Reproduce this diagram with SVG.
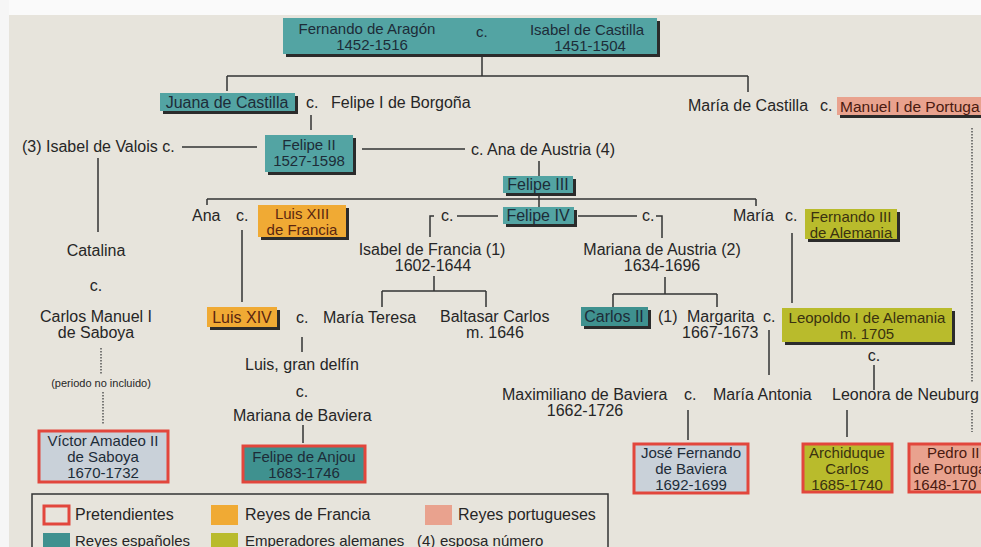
<svg xmlns="http://www.w3.org/2000/svg" width="981" height="547" viewBox="0 0 981 547">
<style>
text{font-family:"Liberation Sans",Arial,sans-serif;font-size:16px;fill:#262626}
.m{text-anchor:middle}
.s15{font-size:15px}
.sh{fill:#2b2b2b}
.teal{fill:#53a4a3}
.dteal{fill:#3f918f}
.org{fill:#f0aa34}
.olv{fill:#b9bb2c}
.sal{fill:#e9a28e}
.lb{fill:#c9d1d9}
.red{stroke:#e2463c;stroke-width:3}
.ln{stroke:#333;stroke-width:1.5;fill:none}
.dot{stroke:#555;stroke-width:1.5;stroke-dasharray:1.5 1.5;fill:none}
.tt{fill:#1d2c38}
.ot{fill:#5a2610}
.vt{fill:#3a3210}
.st{fill:#4a1a10}
</style>
<rect x="0" y="0" width="981" height="547" fill="#e7e4dc"/>
<rect x="0" y="0" width="981" height="15" fill="#fafafa"/>
<rect x="0" y="0" width="9" height="547" fill="#f6f6f6"/>

<g id="connectors">
<path class="ln" d="M482,42V76M227,76H748M227,76V91M748,76V92"/>
<path class="ln" d="M311,115V130"/>
<path class="ln" d="M182,147H257M362,149H465"/>
<path class="ln" d="M98,158V232"/>
<path class="dot" d="M101,348V375M103,392V425"/>
<path class="ln" d="M539,161V176M539,193V207M207,199H756M207,199V205M756,199V206"/>
<path class="ln" d="M457,216H498M434,216H430V237M578,216H637M656,216H662V238"/>
<path class="ln" d="M434,276V291M382,291H486M382,291V307M486,291V307"/>
<path class="ln" d="M665,277V294M613,294H717M613,294V307M717,294V307"/>
<path class="ln" d="M242,230V302M302,337V352M303,425V443"/>
<path class="ln" d="M792,233V303M874,365V390M769,330V375"/>
<path class="ln" d="M688,410V440M847,410V437"/>
<path class="dot" d="M972,128V383M972,410V432"/>
</g>

<g id="n-fernando-isabel">
<rect class="sh" x="286" y="21" width="374" height="36"/>
<rect class="teal" x="283" y="18" width="374" height="36"/>
<text class="m tt s15" x="367" y="34">Fernando de Aragón</text>
<text class="m tt s15" x="372" y="50">1452-1516</text>
<text class="tt s15" x="476" y="37">c.</text>
<text class="m tt s15" x="587" y="35">Isabel de Castilla</text>
<text class="m tt s15" x="590" y="51">1451-1504</text>
</g>

<g id="n-juana">
<rect class="sh" x="163" y="96" width="135" height="18"/>
<rect class="teal" x="160" y="93" width="135" height="18"/>
<text class="m tt" x="227" y="108">Juana de Castilla</text>
<text x="306" y="108">c.</text>
<text x="331" y="108">Felipe I de Borgoña</text>
</g>

<g id="n-maria-castilla">
<text x="688" y="111">María de Castilla</text>
<text x="820" y="111">c.</text>
<rect class="sh" x="840" y="100" width="150" height="18"/>
<rect class="sal" x="837" y="97" width="150" height="18"/>
<text class="st" x="840" y="112" style="font-size:15.5px">Manuel I de Portuga</text>
</g>

<g id="n-felipe2">
<rect class="sh" x="268" y="138" width="88" height="37"/>
<rect class="teal" x="265" y="135" width="88" height="37"/>
<text class="m tt s15" x="309" y="150">Felipe II</text>
<text class="m tt s15" x="309" y="166">1527-1598</text>
</g>

<g id="n-isabel-valois">
<text x="22" y="152">(3) Isabel de Valois c.</text>
</g>

<g id="n-ana-austria">
<text x="471" y="155">c. Ana de Austria (4)</text>
</g>

<g id="n-catalina">
<text class="m" x="96" y="256">Catalina</text>
<text class="m" x="96" y="291">c.</text>
<text class="m" x="96" y="322">Carlos Manuel I</text>
<text class="m" x="96" y="338">de Saboya</text>
<text class="m" x="101" y="387" style="font-size:11px">(periodo no incluido)</text>
</g>

<g id="n-victor">
<rect class="lb red" x="39" y="431" width="129" height="51"/>
<text class="m tt s15" x="103" y="446">Víctor Amadeo II</text>
<text class="m tt s15" x="103" y="462">de Saboya</text>
<text class="m tt s15" x="103" y="478">1670-1732</text>
</g>

<g id="n-felipe3">
<rect class="sh" x="506" y="179" width="70" height="17"/>
<rect class="teal" x="503" y="176" width="70" height="17"/>
<text class="m tt" x="538" y="190">Felipe III</text>
</g>

<g id="n-felipe4">
<rect class="sh" x="506" y="210" width="71" height="17"/>
<rect class="teal" x="503" y="207" width="71" height="17"/>
<text class="m tt" x="538" y="221">Felipe IV</text>
<text x="441" y="221">c.</text>
<text x="642" y="221">c.</text>
</g>

<g id="n-ana-luis13">
<text x="192" y="221">Ana</text>
<text x="236" y="221">c.</text>
<rect class="sh" x="261" y="208" width="88" height="32"/>
<rect class="org" x="258" y="205" width="88" height="32"/>
<text class="m ot s15" x="302" y="219">Luis XIII</text>
<text class="m ot s15" x="302" y="235">de Francia</text>
</g>

<g id="n-isabel-francia">
<text class="m" x="432" y="255">Isabel de Francia (1)</text>
<text class="m" x="433" y="271">1602-1644</text>
</g>

<g id="n-mariana-austria">
<text class="m" x="662" y="255">Mariana de Austria (2)</text>
<text class="m" x="662" y="271">1634-1696</text>
</g>

<g id="n-maria-fernando3">
<text x="733" y="221">María</text>
<text x="785" y="221">c.</text>
<rect class="sh" x="808" y="212" width="92" height="30"/>
<rect class="olv" x="805" y="209" width="92" height="30"/>
<text class="m vt s15" x="851" y="222">Fernando III</text>
<text class="m vt s15" x="851" y="238">de Alemania</text>
</g>

<g id="n-luis14">
<rect class="sh" x="210" y="310" width="70" height="20"/>
<rect class="org" x="207" y="307" width="70" height="20"/>
<text class="m ot" x="242" y="323">Luis XIV</text>
<text x="296" y="323">c.</text>
<text x="323" y="323">María Teresa</text>
</g>

<g id="n-baltasar">
<text x="440" y="322">Baltasar Carlos</text>
<text class="m" x="495" y="338">m. 1646</text>
</g>

<g id="n-carlos2">
<rect class="sh" x="584" y="310" width="67" height="19"/>
<rect class="dteal" x="581" y="307" width="67" height="19"/>
<text class="m tt" x="614" y="322">Carlos II</text>
</g>

<g id="n-margarita">
<text x="658" y="322">(1)</text>
<text x="687" y="322">Margarita</text>
<text x="682" y="338">1667-1673</text>
<text x="763" y="322">c.</text>
</g>

<g id="n-leopoldo">
<rect class="sh" x="785" y="311" width="170" height="34"/>
<rect class="olv" x="782" y="308" width="170" height="34"/>
<text class="m vt s15" x="867" y="323">Leopoldo I de Alemania</text>
<text class="m vt s15" x="867" y="339">m. 1705</text>
<text class="m" x="874" y="361">c.</text>
</g>

<g id="n-luis-delfin">
<text x="245" y="370">Luis, gran delfín</text>
<text class="m" x="302" y="397">c.</text>
<text x="233" y="421">Mariana de Baviera</text>
</g>

<g id="n-felipe-anjou">
<rect class="dteal red" x="243" y="446" width="122" height="36"/>
<text class="m tt s15" x="304" y="462">Felipe de Anjou</text>
<text class="m tt s15" x="304" y="478">1683-1746</text>
</g>

<g id="n-maximiliano">
<text x="502" y="400">Maximiliano de Baviera</text>
<text class="m" x="585" y="416">1662-1726</text>
<text x="684" y="400">c.</text>
<text x="713" y="400">María Antonia</text>
</g>

<g id="n-leonora">
<text x="832" y="400">Leonora de Neuburg</text>
</g>

<g id="n-jose-fernando">
<rect class="lb red" x="634" y="444" width="114" height="49"/>
<text class="m tt s15" x="691" y="458">José Fernando</text>
<text class="m tt s15" x="691" y="474">de Baviera</text>
<text class="m tt s15" x="691" y="490">1692-1699</text>
</g>

<g id="n-archiduque">
<rect class="olv red" x="803" y="444" width="89" height="48"/>
<text class="m vt s15" x="847" y="458">Archiduque</text>
<text class="m vt s15" x="847" y="474">Carlos</text>
<text class="m vt s15" x="847" y="490">1685-1740</text>
</g>

<g id="n-pedro2">
<rect class="sal red" x="909" y="444" width="90" height="48"/>
<text class="st s15" x="927" y="458">Pedro II</text>
<text class="st s15" x="913" y="474">de Portuga</text>
<text class="st s15" x="913" y="490">1648-170</text>
</g>

<g id="legend">
<rect x="32" y="494" width="576" height="70" fill="none" stroke="#333" stroke-width="1.5"/>
<rect x="44" y="506" width="25" height="18" fill="#e7e4dc" class="red"/>
<text x="75" y="520">Pretendientes</text>
<rect class="org" x="211" y="505" width="27" height="20"/>
<text x="245" y="520">Reyes de Francia</text>
<rect class="sal" x="425" y="505" width="27" height="20"/>
<text x="458" y="520">Reyes portugueses</text>
<rect class="dteal" x="43" y="533" width="27" height="20"/>
<text class="s15" x="75" y="546">Reyes españoles</text>
<rect class="olv" x="211" y="533" width="27" height="20"/>
<text class="s15" x="245" y="546">Emperadores alemanes</text>
<text class="s15" x="417" y="546">(4)</text>
<text class="s15" x="440" y="546">esposa número</text>
</g>
</svg>
